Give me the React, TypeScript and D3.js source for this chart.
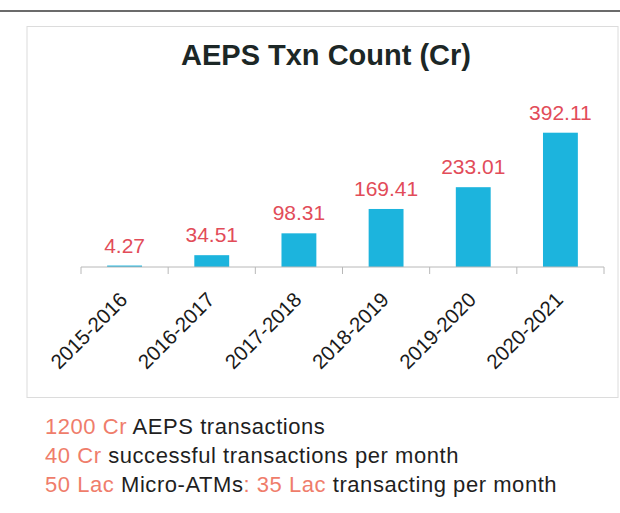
import * as d3 from "d3";

const years = ["2015-2016", "2016-2017", "2017-2018", "2018-2019", "2019-2020", "2020-2021"];
const txnCount = [4.27, 34.51, 98.31, 169.41, 233.01, 392.11];

const title = "AEPS Txn Count (Cr)";

// footnote lines: [text, kind] pairs
const noteLines: [string, string][][] = [
  [["1200 Cr", "hi"], [" AEPS transactions", "txt"]],
  [["40 Cr", "hi"], [" successful transactions per month", "txt"]],
  [["50 Lac", "hi"], [" Micro-ATMs", "txt"], [": 35 Lac", "hi"], [" transacting per month", "txt"]],
] as any;

const W = 620;
const H = 513;
const axisY = 267;
const font = "'Liberation Sans', Arial, Helvetica, sans-serif";

const barColor = "#1cb4dd";
const labelColor = "#e24c59";
const hiColor = "#ef7d6b";

export default function App() {
  const x = d3.scaleBand<string>().domain(years).range([81, 604]).paddingInner(0.6).paddingOuter(0.3);
  const band = d3.scaleBand<string>().domain(years).range([81, 604]);
  const y = d3.scaleLinear().domain([0, 400]).range([axisY, axisY - 137]);

  const edges = [...years.map((d) => band(d) as number), 604];

  return (
    <svg
      width={W}
      height={H}
      style={{ position: "absolute", left: 0, top: 0, background: "#fff", fontFamily: font }}
    >
      <line x1={0} x2={W} y1={11} y2={11} stroke="#3a3a3a" strokeWidth={1.5} />
      <rect x={27} y={26.5} width={591} height={371} fill="none" stroke="#dcdcdc" strokeWidth={1} />

      <text x={326} y={65} textAnchor="middle" fontSize={29} fontWeight="bold" fill="#1c2726">
        {title}
      </text>

      {years.map((d, i) => {
        const bx = x(d) as number;
        const top = y(txnCount[i]);
        return (
          <g key={d}>
            <rect x={bx} y={top} width={x.bandwidth()} height={axisY - top} fill={barColor} />
            <text
              x={bx + x.bandwidth() / 2}
              y={top - 13}
              textAnchor="middle"
              fontSize={21}
              fill={labelColor}
            >
              {d3.format(".2f")(txnCount[i])}
            </text>
          </g>
        );
      })}

      <line x1={81} x2={604} y1={axisY} y2={axisY} stroke="#b8b8b8" strokeWidth={1} />
      {edges.map((e, i) => (
        <line key={i} x1={e} x2={e} y1={axisY} y2={axisY + 7} stroke="#b8b8b8" strokeWidth={1} />
      ))}

      {years.map((d) => {
        const cx = (band(d) as number) + band.bandwidth() / 2;
        return (
          <text
            key={d}
            transform={`translate(${cx + 4},301) rotate(-45)`}
            textAnchor="end"
            fontSize={20.5}
            fill="#1a1a1a"
          >
            {d}
          </text>
        );
      })}

      {noteLines.map((line, i) => (
        <text key={i} x={45} y={434 + i * 29} fontSize={22} letterSpacing={0.55}>
          {line.map(([s, kind]: any, j: number) => (
            <tspan key={j} fill={kind === "hi" ? hiColor : "#1f1f1f"}>
              {s}
            </tspan>
          ))}
        </text>
      ))}
    </svg>
  );
}
